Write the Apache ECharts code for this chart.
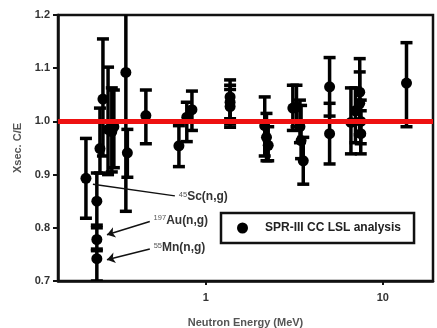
<!DOCTYPE html>
<html>
<head>
<meta charset="utf-8">
<script src="https://cdn.jsdelivr.net/npm/echarts@6/dist/echarts.min.js"></script>
<style>
  html, body { margin: 0; padding: 0; background: #fff; }
  #mainChart { width: 437px; height: 328px; }
</style>
</head>
<body>
<div id="mainChart"></div>
<script>
// neutron energy (MeV), C/E ratio and error bar ends
const energy = [0.21, 0.242, 0.242, 0.242, 0.252, 0.262, 0.28, 0.294, 0.302, 0.353, 0.36,
  0.458, 0.704, 0.78, 0.834, 1.37, 1.37, 1.37, 2.15, 2.2, 2.25,
  3.1, 3.25, 3.4, 3.45, 3.55, 5.0, 5.0, 6.6, 7.0, 7.4, 7.4, 7.5, 7.5, 13.6];
const ratio = [0.893, 0.85, 0.778, 0.742, 0.949, 1.042, 0.985, 0.981, 0.99, 1.092, 0.941,
  1.011, 0.954, 1.008, 1.022, 1.046, 1.036, 1.028, 0.992, 0.97, 0.955,
  1.025, 1.027, 0.99, 0.964, 0.926, 1.065, 0.977, 0.998, 1.02, 1.055, 1.034, 1.0, 0.977, 1.072];
const errLow = [0.818, 0.805, 0.757, 0.7, 0.903, 0.935, 0.9, 0.905, 0.913, 0.831, 0.895,
  0.958, 0.915, 0.962, 0.983, 1.005, 0.995, 0.989, 0.935, 0.926, 0.926,
  0.983, 0.99, 0.96, 0.93, 0.882, 1.01, 0.92, 0.939, 0.96, 1.0, 0.975, 0.958, 0.939, 0.99];
const errHigh = [0.968, 0.903, 0.8, 0.76, 1.025, 1.155, 1.102, 1.063, 1.059, 1.25, 0.985,
  1.059, 0.992, 1.036, 1.057, 1.078, 1.068, 1.06, 1.046, 1.015, 0.99,
  1.068, 1.068, 1.04, 1.03, 0.97, 1.12, 1.034, 1.063, 1.063, 1.118, 1.093, 1.04, 1.02, 1.148];

const seriesName = "SPR-III CC LSL analysis";
const xLimits = [0.146, 19.2];
const yLimits = [0.7, 1.2];

// reaction callouts: [label, from, to, arrow?]
const callouts = [
  ["45|Sc(n,g)", [0.23, 0.882], [0.668, 0.86], false],
  ["197|Au(n,g)", [0.482, 0.812], [0.276, 0.787], true],
  ["55|Mn(n,g)", [0.482, 0.76], [0.276, 0.74], true],
];

const font = "'Liberation Sans', Arial, sans-serif";

const myChart = echarts.init(document.getElementById("mainChart"));

const option = {
  animation: false,
  textStyle: { fontFamily: font },
  grid: {
    left: 58, right: 4, top: 15, bottom: 47,
    outerBoundsMode: "none",
    containLabel: false,
    show: true, borderColor: "#111", borderWidth: 2.5,
  },
  legend: {
    data: [{ name: seriesName, icon: "circle" }],
    left: 221, top: 213,
    itemWidth: 11, itemHeight: 11,
    padding: [9, 13, 9, 16],
    borderColor: "#111", borderWidth: 2.5,
    textStyle: { fontFamily: font, fontWeight: "bold", fontSize: 12, color: "#222", padding: [0, 0, 0, 12] },
  },
  xAxis: {
    type: "log",
    logBase: 10,
    min: xLimits[0], max: xLimits[1],
    name: "Neutron Energy (MeV)",
    nameLocation: "middle", nameGap: 36,
    nameTextStyle: { fontFamily: font, fontWeight: "bold", fontSize: 11, color: "#555" },
    axisLine: { lineStyle: { color: "#111", width: 2.5 } },
    axisTick: { length: 4, lineStyle: { color: "#111", width: 2 } },
    minorTick: { show: false },
    splitLine: { show: false },
    axisLabel: {
      showMinLabel: false, showMaxLabel: false, margin: 11,
      fontFamily: font, fontWeight: "bold", fontSize: 11, color: "#333",
    },
  },
  yAxis: {
    type: "value",
    min: yLimits[0], max: yLimits[1], interval: 0.1,
    name: "Xsec. C/E",
    nameLocation: "middle", nameGap: 33,
    nameTextStyle: { fontFamily: font, fontWeight: "bold", fontSize: 11, color: "#555" },
    axisLine: { show: true, lineStyle: { color: "#111", width: 2.5 } },
    axisTick: { show: true, length: 5, lineStyle: { color: "#111", width: 2 } },
    splitLine: { show: false },
    axisLabel: {
      margin: 8, formatter: (v) => v.toFixed(1),
      fontFamily: font, fontWeight: "bold", fontSize: 11, color: "#333",
    },
  },
  series: [
    {
      name: "errors",
      type: "custom",
      clip: true,
      z: 2,
      data: energy.map((e, i) => [e, errLow[i], errHigh[i]]),
      renderItem: function (params, api) {
        const x = api.value(0);
        const lo = api.coord([x, api.value(1)]);
        const hi = api.coord([x, api.value(2)]);
        const half = 6;
        const style = { stroke: "#000", lineWidth: 3.5 };
        return {
          type: "group",
          children: [
            { type: "line", shape: { x1: lo[0], y1: lo[1], x2: hi[0], y2: hi[1] }, style },
            { type: "line", shape: { x1: lo[0] - half, y1: lo[1], x2: lo[0] + half, y2: lo[1] }, style },
            { type: "line", shape: { x1: hi[0] - half, y1: hi[1], x2: hi[0] + half, y2: hi[1] }, style },
          ],
        };
      },
    },
    {
      name: seriesName,
      type: "scatter",
      z: 3,
      symbol: "circle",
      symbolSize: 11,
      itemStyle: { color: "#000", opacity: 1 },
      data: energy.map((e, i) => [e, ratio[i]]),
      markLine: {
        silent: true,
        symbol: "none",
        z: 6,
        label: { show: false },
        lineStyle: { color: "#ee1111", width: 5, type: "solid" },
        data: [{ yAxis: 1.0 }],
      },
    },
    {
      name: "callouts",
      type: "line",
      data: [],
      markLine: {
        silent: true,
        symbolSize: 8,
        lineStyle: { color: "#111", width: 1.5, type: "solid" },
        label: {
          show: true,
          distance: 4,
          color: "#333",
          fontFamily: font,
          rich: {
            sup: { fontSize: 7.5, color: "#555", verticalAlign: "top", fontFamily: font },
            b: { fontSize: 12, fontWeight: "bold", color: "#333", fontFamily: font },
          },
        },
        data: callouts.map((c) => {
          const parts = c[0].split("|");
          const text = "{sup|" + parts[0] + "}{b|" + parts[1] + "}";
          return [
            { coord: c[1], symbol: "none" },
            {
              coord: c[2],
              symbol: c[3] ? "arrow" : "none",
              label: { formatter: text, position: c[3] ? "start" : "end" },
            },
          ];
        }),
      },
    },
  ],
};

myChart.setOption(option);
</script>
</body>
</html>
